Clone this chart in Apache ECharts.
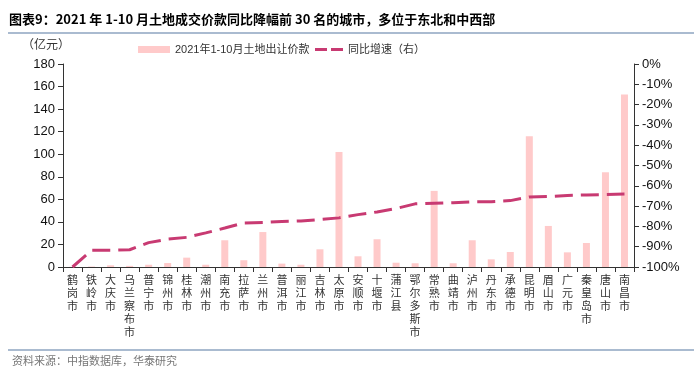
<!DOCTYPE html>
<html>
<head>
<meta charset="utf-8">
<script src="https://cdn.jsdelivr.net/npm/echarts@6/dist/echarts.min.js"></script>
<style>
  html, body { margin: 0; padding: 0; background: #fff; }
  #chart { width: 700px; height: 375px; }
</style>
</head>
<body>
<div id="chart"></div>
<script>
// 城市（按同比降幅排序）
var cities = ["鹤岗市", "铁岭市", "大庆市", "乌兰察布市", "普宁市", "锦州市", "桂林市", "潮州市", "南充市", "拉萨市",
  "兰州市", "普洱市", "丽江市", "吉林市", "太原市", "安顺市", "十堰市", "蒲江县", "鄂尔多斯市", "常熟市",
  "曲靖市", "泸州市", "丹东市", "承德市", "昆明市", "眉山市", "广元市", "秦皇岛市", "唐山市", "南昌市"];
// 2021年1-10月土地出让价款（亿元）
var landValue = [0.2, 0.4, 1.5, 1, 2, 3.5, 8.3, 2, 23.7, 6,
  31, 3, 2, 15.7, 102, 9.5, 24.6, 3.8, 3.3, 67.5,
  3.3, 23.7, 6.8, 13.3, 116, 36.4, 13, 21.3, 84, 153];
// 同比增速（%）
var yoyGrowth = [-100, -91.8, -91.8, -91.5, -88, -86.3, -85.4, -83.2, -80.8, -78.3,
  -78.1, -77.6, -77.3, -76.6, -75.8, -74.2, -72.9, -71.2, -68.9, -68.6,
  -68.3, -67.9, -67.8, -67.3, -65.5, -65.3, -64.8, -64.5, -64.3, -64.1];

var chart = echarts.init(document.getElementById("chart"));
var axisColor = "#333";
var lineColor = "#C83A72";
var legendText = { fontSize: 11, color: "#333", fontFamily: "Arial, 'Noto Sans CJK SC'" };

chart.setOption({
  animation: false,
  textStyle: { fontFamily: "Arial, 'Noto Sans CJK SC'" },
  title: {
    text: "图表9：2021 年 1-10 月土地成交价款同比降幅前 30 名的城市，多位于东北和中西部",
    left: 4,
    top: 8,
    textStyle: { fontSize: 13, fontWeight: "bold", color: "#000", fontFamily: "'Noto Sans CJK SC', Arial" }
  },
  graphic: [
    { type: "line", shape: { x1: 8, y1: 33, x2: 694, y2: 33 }, style: { stroke: "#8EA4C0", lineWidth: 1.5 } },
    { type: "line", shape: { x1: 8, y1: 350, x2: 694, y2: 350 }, style: { stroke: "#8EA4C0", lineWidth: 1.5 } },
    { type: "text", left: 12, top: 355, style: { text: "资料来源：中指数据库，华泰研究", fill: "#777", font: "11px 'Noto Sans CJK SC'" } },
    { type: "text", left: 22, top: 38, style: { text: "（亿元）", fill: "#333", font: "12px 'Noto Sans CJK SC'" } }
  ],
  legend: [
    {
      left: 133,
      top: 39,
      itemWidth: 32,
      itemHeight: 7,
      textStyle: legendText,
      data: [{ name: "2021年1-10月土地出让价款", icon: "rect" }]
    },
    {
      left: 310,
      top: 39,
      itemWidth: 28,
      itemHeight: 3,
      textStyle: legendText,
      data: [{
        name: "同比增速（右）",
        icon: "path://M0,0 L12,0 L12,3 L0,3 Z M16,0 L28,0 L28,3 L16,3 Z",
        itemStyle: { color: lineColor }
      }]
    }
  ],
  grid: { left: 63, right: 66, top: 64, bottom: 108 },
  xAxis: {
    type: "category",
    data: cities,
    axisLine: { lineStyle: { color: axisColor } },
    axisTick: { show: true, length: 5, lineStyle: { color: axisColor } },
    axisLabel: {
      interval: 0,
      margin: 6,
      color: "#333",
      fontSize: 11,
      lineHeight: 13,
      fontFamily: "'Noto Sans CJK SC'",
      formatter: function (v) { return v.split("").join("\n"); }
    }
  },
  yAxis: [
    {
      type: "value",
      min: 0,
      max: 180,
      interval: 20,
      axisLine: { show: true, lineStyle: { color: axisColor } },
      axisTick: { show: true, length: 5, lineStyle: { color: axisColor } },
      axisLabel: { color: "#111", fontSize: 13, margin: 8 },
      splitLine: { show: false }
    },
    {
      type: "value",
      min: -100,
      max: 0,
      interval: 10,
      axisLine: { show: true, lineStyle: { color: axisColor } },
      axisTick: { show: true, length: 5, lineStyle: { color: axisColor } },
      axisLabel: { color: "#111", fontSize: 13, margin: 8, formatter: "{value}%" },
      splitLine: { show: false }
    }
  ],
  series: [
    {
      name: "2021年1-10月土地出让价款",
      type: "bar",
      data: landValue,
      barWidth: 7,
      itemStyle: { color: "#FFCACA" }
    },
    {
      name: "同比增速（右）",
      type: "line",
      yAxisIndex: 1,
      data: yoyGrowth,
      symbol: "none",
      smooth: false,
      itemStyle: { color: lineColor },
      lineStyle: { color: lineColor, width: 3, type: [18, 8] }
    }
  ]
});
</script>
</body>
</html>
